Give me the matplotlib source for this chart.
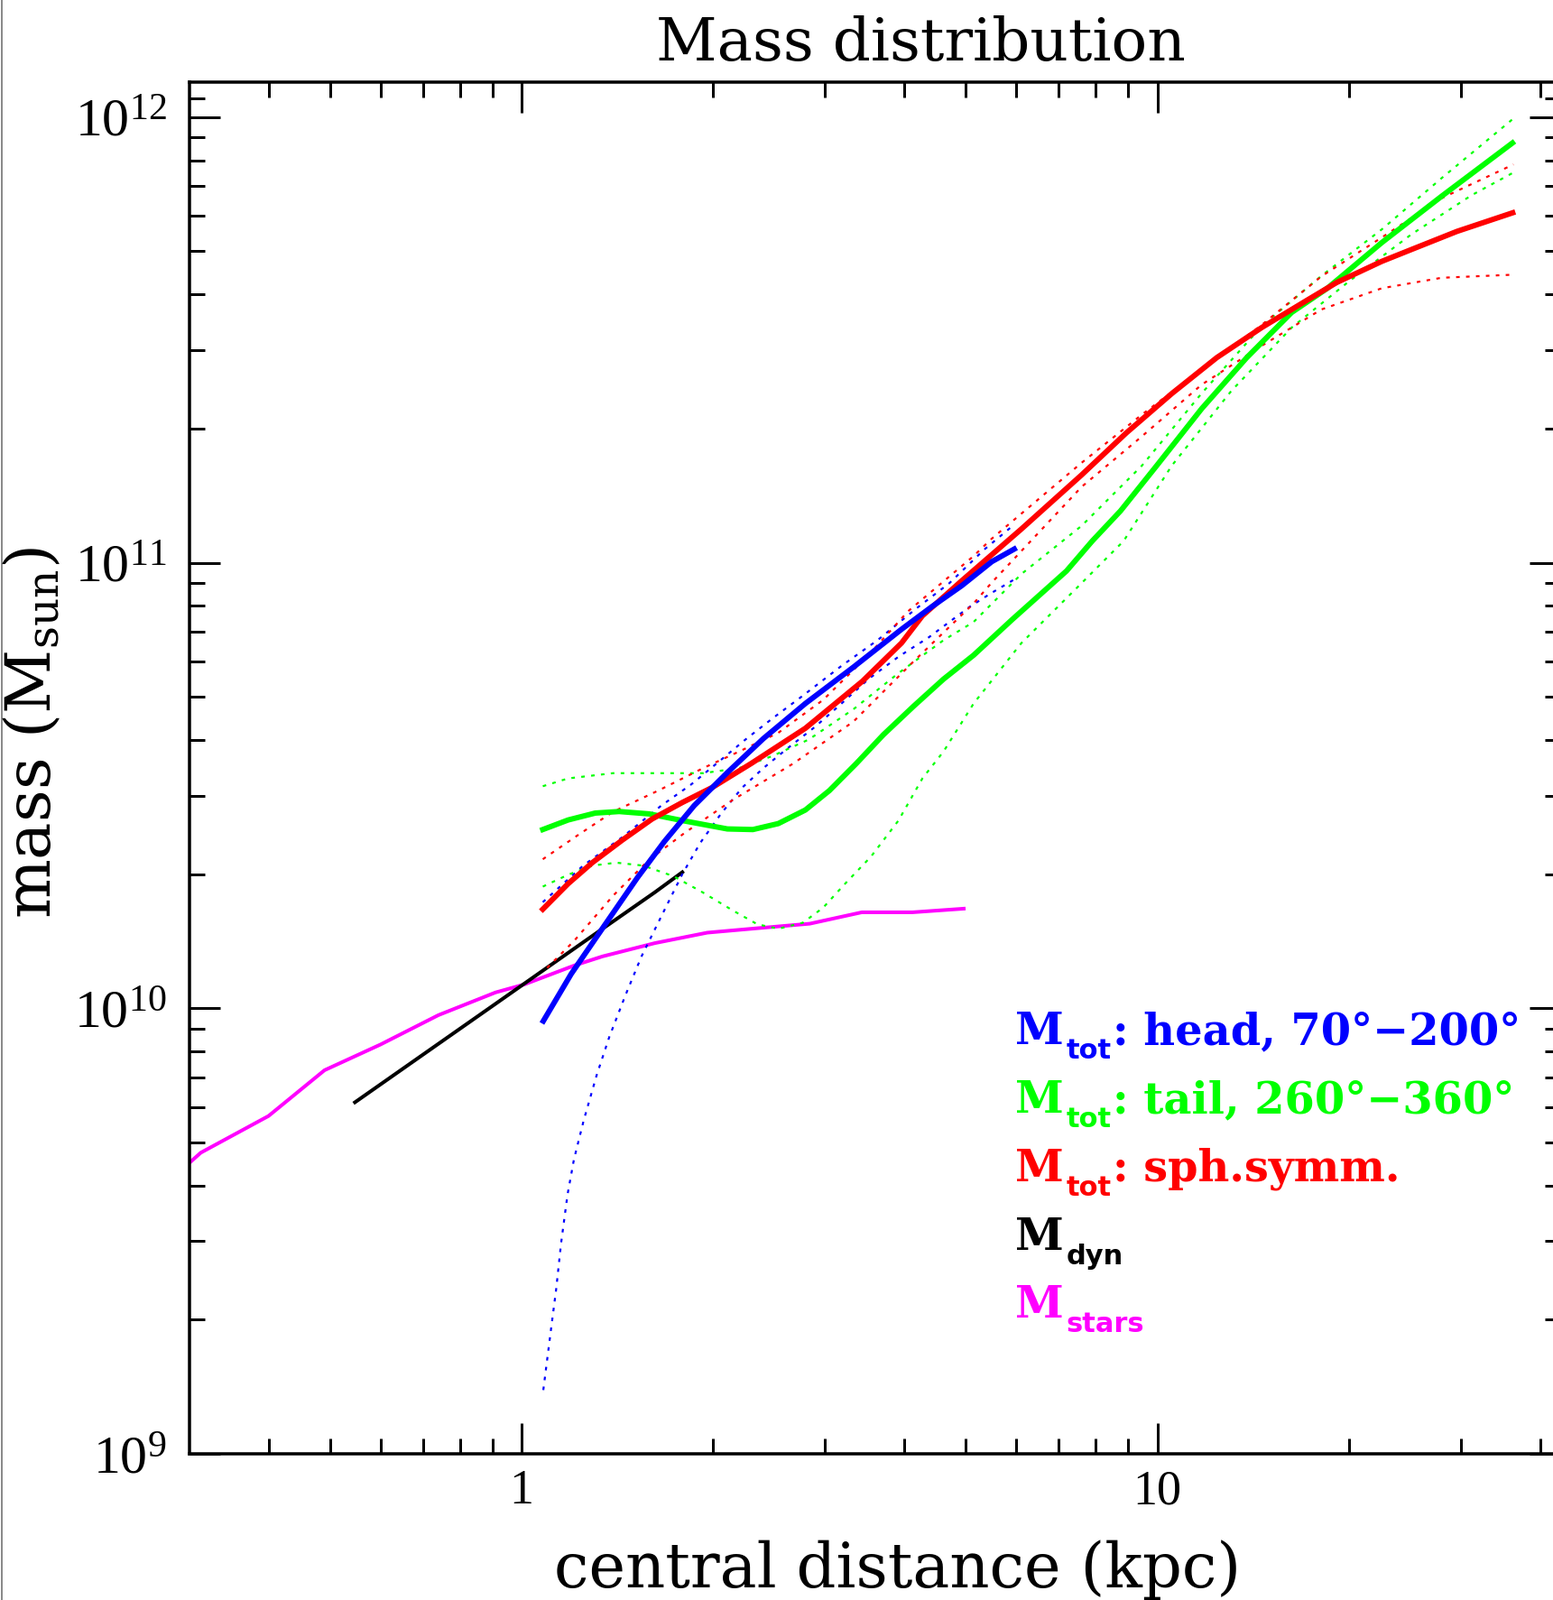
import matplotlib
matplotlib.use("Agg")
import matplotlib.pyplot as plt
from matplotlib.ticker import NullFormatter
from matplotlib.lines import Line2D

plt.rcParams['mathtext.fontset'] = 'custom'
plt.rcParams['mathtext.rm'] = 'Liberation Serif'
plt.rcParams['mathtext.it'] = 'Liberation Serif:italic'
plt.rcParams['mathtext.bf'] = 'DejaVu Sans:bold'
plt.rcParams['mathtext.sf'] = 'DejaVu Serif'

# ---------------- data (kpc, Msun) ----------------
r_head = [1.082, 1.197, 1.349, 1.521, 1.677, 1.869, 2.107, 2.401, 2.795, 3.327, 3.96, 4.415, 4.924, 5.49, 5.955]
m_head = [9.36e9, 1.194e10, 1.531e10, 1.963e10, 2.366e10, 2.851e10, 3.38e10, 4.03e10, 4.83e10, 5.83e10,
          7.09e10, 7.96e10, 8.88e10, 1.0055e11, 1.073e11]

r_head_lo = [1.082, 1.095, 1.114, 1.134, 1.154, 1.181, 1.209, 1.252, 1.312, 1.374, 1.457, 1.544, 1.656, 1.79,
             1.91, 2.062, 2.225, 2.401, 2.619, 2.888, 3.15, 3.512, 3.915, 4.37, 5.06, 5.46, 5.955]
m_head_lo = [1.39e9, 1.59e9, 1.93e9, 2.35e9, 2.97e9, 3.81e9, 4.58e9, 5.59e9, 7.06e9, 8.62e9, 1.07e10, 1.307e10,
             1.6e10, 2.0e10, 2.35e10, 2.74e10, 3.13e10, 3.46e10, 3.83e10, 4.27e10, 4.76e10, 5.48e10, 6.15e10,
             6.80e10, 7.95e10, 8.52e10, 9.17e10]

r_head_hi = [1.08, 1.25, 1.44, 1.659, 1.849, 2.04, 2.25, 2.48, 2.77, 3.187, 3.63, 4.18, 4.71, 5.34, 5.955]
m_head_hi = [1.73e10, 2.09e10, 2.42e10, 2.85e10, 3.18e10, 3.57e10, 4.01e10, 4.47e10, 5.03e10, 5.87e10,
             6.70e10, 7.9e10, 9.0e10, 1.07e11, 1.218e11]

r_tail = [1.08, 1.184, 1.306, 1.424, 1.588, 1.79, 2.107, 2.311, 2.534, 2.795, 3.049, 3.362, 3.707, 4.134,
          4.61, 5.14, 5.92, 7.195, 7.90, 8.75, 9.97, 11.74, 13.82, 16.26, 18.53, 22.54, 28.01, 36.17]
m_tail = [2.518e10, 2.646e10, 2.742e10, 2.764e10, 2.73e10, 2.638e10, 2.526e10, 2.518e10, 2.597e10, 2.786e10,
          3.08e10, 3.544e10, 4.11e10, 4.76e10, 5.48e10, 6.20e10, 7.47e10, 9.58e10, 1.119e11, 1.307e11,
          1.65e11, 2.217e11, 2.886e11, 3.644e11, 4.136e11, 5.23e11, 6.65e11, 8.75e11]

r_tail_hi = [1.08, 1.184, 1.393, 1.641, 1.931, 2.2, 2.478, 2.83, 3.327, 3.915, 4.61, 5.14, 6.11, 7.6, 9.45,
             11.74, 14.6, 18.1, 22.54, 28.0, 36.3]
m_tail_hi = [3.15e10, 3.28e10, 3.37e10, 3.37e10, 3.37e10, 3.46e10, 3.68e10, 4.01e10, 4.69e10, 5.65e10,
             6.70e10, 7.36e10, 9.43e10, 1.21e11, 1.65e11, 2.4e11, 3.4e11, 4.4e11, 5.6e11, 7.3e11, 9.93e11]

r_tail_lo = [1.08, 1.184, 1.292, 1.409, 1.554, 1.733, 1.931, 2.153, 2.35, 2.534, 2.77, 2.98, 3.228, 3.545,
             3.915, 4.27, 4.61, 5.14, 6.11, 7.6, 8.85, 10.53, 13.07, 16.26, 19.93, 25.1, 31.2, 36.3]
m_tail_lo = [1.875e10, 1.994e10, 2.09e10, 2.122e10, 2.09e10, 1.979e10, 1.817e10, 1.655e10, 1.543e10, 1.508e10,
             1.556e10, 1.681e10, 1.904e10, 2.19e10, 2.638e10, 3.28e10, 3.77e10, 4.83e10, 6.60e10, 9.0e10,
             1.119e11, 1.65e11, 2.43e11, 3.37e11, 4.26e11, 5.46e11, 6.68e11, 7.51e11]

r_sph = [1.08, 1.184, 1.292, 1.44, 1.605, 1.79, 1.995, 2.298, 2.795, 3.437, 3.958, 4.27, 4.92, 6.11,
         7.6, 8.94, 10.53, 12.4, 14.6, 17.18, 19.15, 22.54, 25.13, 29.58, 36.2]
m_sph = [1.668e10, 1.904e10, 2.122e10, 2.384e10, 2.66e10, 2.896e10, 3.13e10, 3.544e10, 4.25e10, 5.42e10,
         6.6e10, 7.6e10, 9.1e10, 1.19e11, 1.574e11, 1.957e11, 2.395e11, 2.886e11, 3.373e11,
         3.88e11, 4.256e11, 4.746e11, 5.05e11, 5.54e11, 6.10e11]

r_sph_hi = [1.08, 1.223, 1.393, 1.641, 1.931, 2.20, 2.533, 2.98, 3.512, 4.05, 5.14, 5.48, 7.6, 9.45, 11.74,
            14.6, 18.1, 22.54, 28.0, 36.3]
m_sph_hi = [2.16e10, 2.44e10, 2.76e10, 3.08e10, 3.46e10, 3.77e10, 4.15e10, 4.92e10, 6.20e10, 7.77e10,
            1.035e11, 1.13e11, 1.676e11, 2.149e11, 2.713e11, 3.42e11, 4.39e11, 5.37e11, 6.58e11, 7.83e11]

r_sph_lo = [1.097, 1.21, 1.393, 1.588, 1.808, 2.153, 2.677, 3.327, 4.134, 5.14, 5.48, 7.6, 9.45, 11.74,
            14.6, 18.1, 22.54, 28.0, 36.3]
m_sph_lo = [1.232e10, 1.417e10, 1.789e10, 2.156e10, 2.479e10, 2.94e10, 3.544e10, 4.40e10, 6.0e10, 8.1e10,
            9.0e10, 1.48e11, 1.92e11, 2.51e11, 3.07e11, 3.70e11, 4.13e11, 4.36e11, 4.43e11]

r_dyn = [0.547, 0.74, 0.91, 1.10, 1.34, 1.62, 1.79]
m_dyn = [6.15e9, 8.32e9, 1.023e10, 1.237e10, 1.507e10, 1.82e10, 2.02e10]

r_stars = [0.30, 0.313, 0.40, 0.49, 0.60, 0.74, 0.91, 1.01, 1.21, 1.34, 1.62, 1.96, 2.36, 2.84, 3.43, 4.12, 4.96]
m_stars = [4.49e9, 4.74e9, 5.73e9, 7.26e9, 8.29e9, 9.65e9, 1.085e10, 1.131e10, 1.247e10, 1.307e10, 1.40e10,
           1.478e10, 1.513e10, 1.548e10, 1.642e10, 1.642e10, 1.673e10]

x_major = [1, 10]
x_major_labels = ['1', '10']
x_minor = [0.4, 0.5, 0.6, 0.7, 0.8, 0.9, 2, 3, 4, 5, 6, 7, 8, 9, 20, 30, 40]
y_major = [1e9, 1e10, 1e11, 1e12]
y_major_labels = [r'$\mathrm{10^{9}}$', r'$\mathrm{10^{10}}$', r'$\mathrm{10^{11}}$', r'$\mathrm{10^{12}}$']
y_minor = [m * 10 ** e for e in (9, 10, 11) for m in range(2, 10)] + [1.1e12]

legend_subs = ['tot', 'tot', 'tot', 'dyn', 'stars']
legend_rest = [': head, 70°−200°', ': tail, 260°−360°', ': sph.symm.', '', '']
legend_colors = ['#0000ff', '#00ff00', '#ff0000', '#000000', '#ff00ff']

# ---------------- figure ----------------
W, H = 1721, 1774
fig = plt.figure(figsize=(W / 100, H / 100), dpi=100)
L, R, T, B = 209.5, 1729.0, 91.7, 1612.0
ax = fig.add_axes([L / W, 1 - B / H, (R - L) / W, (B - T) / H])
ax.set_xscale('log')
ax.set_yscale('log')
ax.set_xlim(0.3, 43.0)
ax.set_ylim(1e9, 1.2e12)

PX = 72 / 100.0  # points per pixel
dot_lw = 2.2 * PX
dash = (1.8, 3.2)

blue, green, red = '#0000ff', '#00ff00', '#ff0000'

ax.plot(r_stars, m_stars, color='#ff00ff', lw=4 * PX)
ax.plot(r_dyn, m_dyn, color='black', lw=4 * PX)

for rr, mm, c in [(r_head_lo, m_head_lo, blue), (r_head_hi, m_head_hi, blue),
                  (r_tail_lo, m_tail_lo, green), (r_tail_hi, m_tail_hi, green),
                  (r_sph_lo, m_sph_lo, red), (r_sph_hi, m_sph_hi, red)]:
    ax.plot(rr, mm, color=c, lw=dot_lw, linestyle=(0, dash))

ax.plot(r_tail, m_tail, color=green, lw=6 * PX)
ax.plot(r_sph, m_sph, color=red, lw=6 * PX)
ax.plot(r_head, m_head, color=blue, lw=6 * PX)

# ticks
ax.set_xticks(x_major)
ax.set_xticklabels(x_major_labels)
ax.set_xticks(x_minor, minor=True)
ax.xaxis.set_minor_formatter(NullFormatter())
ax.set_yticks(y_major)
ax.set_yticklabels(y_major_labels)
ax.set_yticks(y_minor, minor=True)
ax.yaxis.set_minor_formatter(NullFormatter())
ax.tick_params(which='both', direction='in', top=True, right=True, width=3 * PX, colors='black')
ax.tick_params(which='major', length=34 * PX)
ax.tick_params(which='minor', length=17 * PX)
ax.tick_params(axis='x', which='major', pad=16 * PX, labelsize=39)
ax.tick_params(axis='y', which='major', pad=25 * PX, labelsize=43)
for lab in ax.get_xticklabels() + ax.get_yticklabels():
    lab.set_fontfamily('Liberation Serif')
for sp in ax.spines.values():
    sp.set_linewidth(3.5 * PX)

# texts
fig.text(1020 / W, 1 - 67 / H, 'Mass distribution', family='DejaVu Serif', fontsize=47.5,
         ha='center', va='baseline')
fig.text(994.5 / W, 1 - 1759 / H, 'central distance (kpc)', family='DejaVu Serif', fontsize=49.5,
         ha='center', va='baseline')
fig.text(36 / W, 1 - 812 / H, r'mass (M$_{\mathsf{sun}}$)', family='DejaVu Serif', fontsize=50,
         ha='center', va='center', rotation=90)

renderer = fig.canvas.get_renderer()
base_y = [1157, 1233, 1309, 1385, 1460]
for sub, rest, c, by in zip(legend_subs, legend_rest, legend_colors, base_y):
    tM = fig.text(1125 / W, 1 - by / H, 'M', family='DejaVu Serif', fontweight='bold', fontsize=35,
                  color=c, ha='left', va='baseline')
    xm = tM.get_window_extent(renderer).x1 + 3
    tS = fig.text(xm / W, 1 - (by + 16) / H, sub, family='DejaVu Sans', fontweight='bold', fontsize=22,
                  color=c, ha='left', va='baseline')
    xs = tS.get_window_extent(renderer).x1 + 1
    if rest:
        fig.text(xs / W, 1 - by / H, rest, family='DejaVu Serif', fontweight='bold', fontsize=34.5,
                 color=c, ha='left', va='baseline')

fig.add_artist(Line2D([1.5 / W, 1.5 / W], [0, 1], transform=fig.transFigure, color='#8a8a8a', lw=2 * PX))

fig.savefig('out.png', dpi=100)
